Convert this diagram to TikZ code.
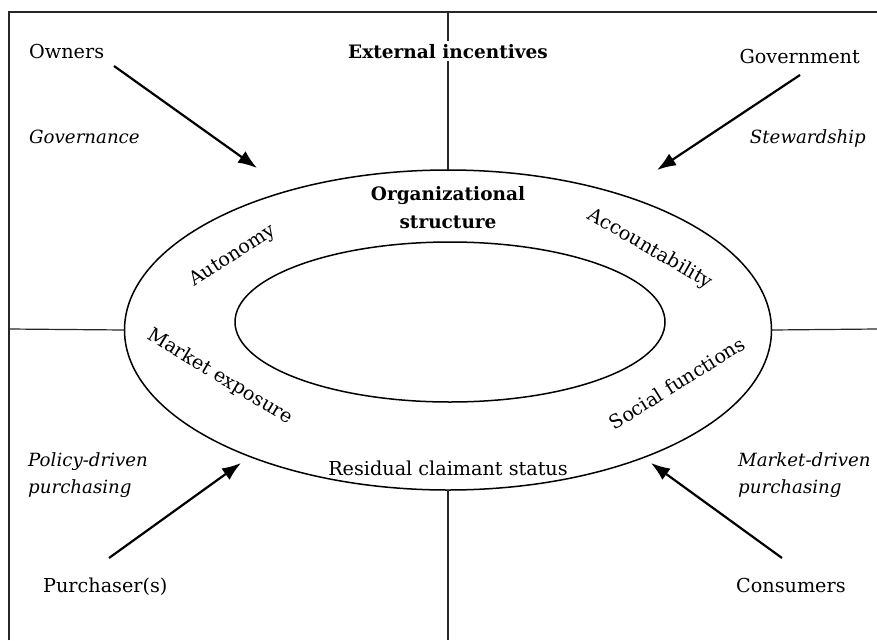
\documentclass[tikz,border=0pt]{standalone}
\usepackage{fontspec}
\setmainfont{DejaVu Serif}
\usetikzlibrary{arrows.meta,shapes.geometric}
\begin{document}
\begin{tikzpicture}[x=1pt,y=-1pt,
  frame/.style={line width=1.2pt,draw=black!85},
  ring/.style={ellipse,draw,line width=1.5pt,inner sep=0pt,outer sep=0pt},
  arr/.style={line width=2.2pt,-{Latex[length=19pt,width=14pt]}},
  lbl/.style={inner sep=0pt,font=\fontsize{19.2}{24}\selectfont},
  ilbl/.style={inner sep=0pt,font=\fontsize{18.2}{24}\selectfont\itshape,align=left},
  blbl/.style={inner sep=0pt,font=\fontsize{18.5}{24}\selectfont\bfseries,align=center}]
\useasboundingbox (0,0) rectangle (877,640);
% frame
\coordinate (tl) at (9,12);
\coordinate (tr) at (877,12);
\coordinate (bl) at (9,640);
\draw[frame] (bl) -- (tl) -- (tr);
% ellipses
\node[ring,minimum width=647pt,minimum height=320pt] (outer) at (448,330) {};
\node[ring,minimum width=430pt,minimum height=160pt] (inner) at (450,322) {};
% quadrant lines
\coordinate (vt) at (448,12);
\coordinate (vb) at (448,640);
\coordinate (hl) at (9,329);
\coordinate (hr) at (877,329);
\draw[frame] (vt) -- (outer.north);
\draw[frame] (outer.south) -- (vb);
\draw[frame] (hl) -- (outer.west);
\draw[frame] (outer.east) -- (hr);
% corner labels
\node[lbl,anchor=base west] (own) at (29,58) {Owners};
\node[ilbl,anchor=base west] (gov) at (29,143) {Governance};
\node[blbl,anchor=base,fill=white,inner xsep=4pt,inner ysep=3pt] (ext) at (448,58) {External incentives};
\node[lbl,anchor=base east] (govt) at (860,63) {Government};
\node[ilbl,anchor=base east] (stew) at (866,143) {Stewardship};
\node[ilbl,anchor=base west] (pol) at (28,466) {Policy-driven};
\node[ilbl,anchor=base west] (pol2) at (28,493) {purchasing};
\node[lbl,anchor=base west] (pur) at (43,592) {Purchaser(s)};
\node[ilbl,anchor=base west] (mkt) at (738,466) {Market-driven};
\node[ilbl,anchor=base west] (mkt2) at (738,493) {purchasing};
\node[lbl,anchor=base west] (con) at (736,592) {Consumers};
% ring labels
\node[blbl,anchor=base] (org) at (448,200) {Organizational};
\node[blbl,anchor=base] (org2) at (448,228) {structure};
\node[lbl,rotate=33] (aut) at (233,256) {Autonomy};
\node[lbl,rotate=-30] (acc) at (650,249) {Accountability};
\node[lbl,rotate=-31] (mex) at (220,377) {Market exposure};
\node[lbl,rotate=32] (soc) at (677,383) {Social functions};
\node[lbl,anchor=base] (res) at (448,475) {Residual claimant status};
% arrows
\coordinate (a1s) at (114,66);  \coordinate (a1e) at (257,168);
\coordinate (a2s) at (800,75);  \coordinate (a2e) at (657,170);
\coordinate (a3s) at (109,558); \coordinate (a3e) at (241,463);
\coordinate (a4s) at (782,558); \coordinate (a4e) at (651,463);
\draw[arr] (a1s) -- (a1e);
\draw[arr] (a2s) -- (a2e);
\draw[arr] (a3s) -- (a3e);
\draw[arr] (a4s) -- (a4e);
\end{tikzpicture}
\end{document}
